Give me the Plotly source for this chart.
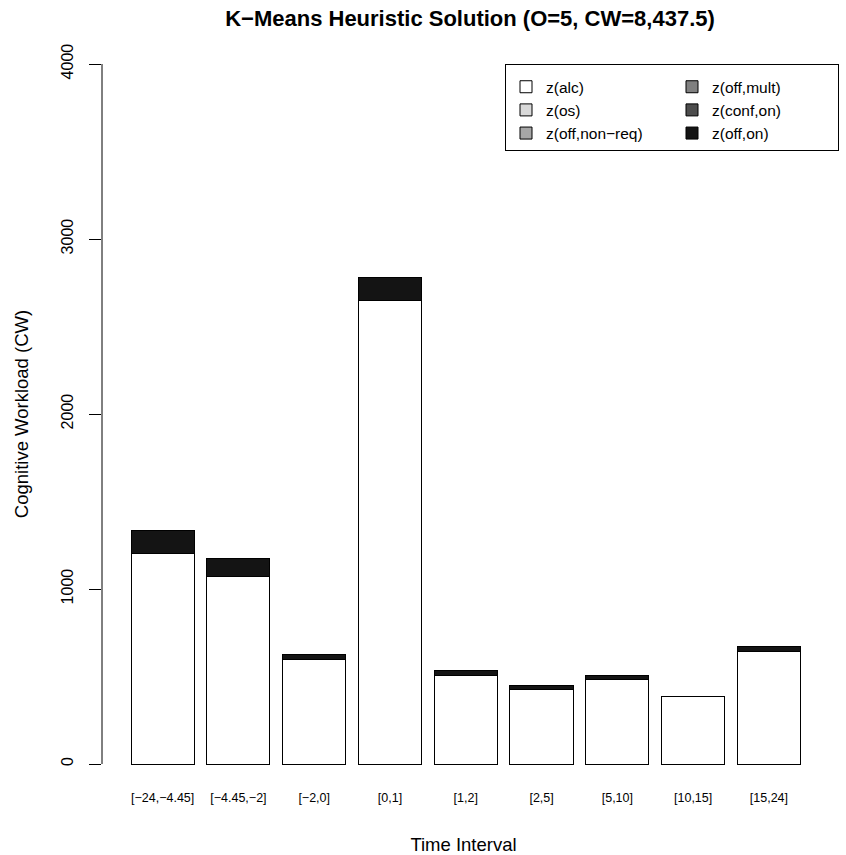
import plotly.graph_objects as go

categories = ["[\u221224,\u22124.45]", "[\u22124.45,\u22122]", "[\u22122,0]", "[0,1]", "[1,2]",
              "[2,5]", "[5,10]", "[10,15]", "[15,24]"]
z_alc = [1204, 1074, 598, 2647, 505, 425, 482, 383, 641]
z_os = [0, 0, 0, 0, 0, 0, 0, 0, 0]
z_off_nonreq = [0, 0, 0, 0, 0, 0, 0, 0, 0]
z_off_mult = [0, 0, 0, 0, 0, 0, 0, 0, 0]
z_conf_on = [0, 0, 0, 0, 0, 0, 0, 0, 0]
z_off_on = [129, 101, 25, 134, 30, 25, 23, 4, 28]
y_ticks = [0, 1000, 2000, 3000, 4000]

series = [
    ("z(alc)", z_alc, "#ffffff", 1),
    ("z(os)", z_os, "#d9d9d9", 3),
    ("z(off,non\u2212req)", z_off_nonreq, "#a6a6a6", 5),
    ("z(off,mult)", z_off_mult, "#808080", 2),
    ("z(conf,on)", z_conf_on, "#4d4d4d", 4),
    ("z(off,on)", z_off_on, "#141414", 6),
]

FONT = "Liberation Sans, Arial, Helvetica, sans-serif"

fig = go.Figure()
x_idx = list(range(len(categories)))
for name, vals, color, rank in series:
    fig.add_trace(go.Bar(
        x=x_idx, y=vals, name=name, legendrank=rank,
        marker=dict(color=color, line=dict(color="#000000", width=1)),
    ))

fig.update_layout(
    width=846, height=855,
    margin=dict(l=102, r=21, t=36, b=63, autoexpand=False),
    paper_bgcolor="white", plot_bgcolor="white",
    barmode="stack", bargap=1 - 1 / 1.2,
    font=dict(family=FONT, color="#000000"),
    title=dict(text="<b>K\u2212Means Heuristic Solution (O=5, CW=8,437.5)</b>",
               x=470 / 846, xref="container", xanchor="center",
               y=1 - 18 / 855, yref="container", yanchor="middle",
               font=dict(size=22)),
    showlegend=True,
    legend=dict(orientation="h", x=(839 - 102) / 723, xanchor="right", y=0.963, yanchor="top",
                bordercolor="#000000", borderwidth=1, bgcolor="white",
                entrywidth=121, font=dict(size=15.5), traceorder="normal",
                title=dict(text=" ", side="top", font=dict(size=4))),
    xaxis=dict(range=[-0.80, 8.74], tickmode="array", tickvals=x_idx, ticktext=categories,
               showline=False, showgrid=False, zeroline=False, ticks="",
               tickfont=dict(size=12.5), automargin=False, ticklabelstandoff=-4,
               title=dict(text="Time Interval", font=dict(size=18.5), standoff=34)),
    yaxis=dict(range=[-160, 4160], tickvals=y_ticks,
               showline=False, showgrid=False, zeroline=False,
               ticks="outside", ticklen=12, tickcolor="#000000", tickangle=-90,
               ticklabelstandoff=10,
               tickfont=dict(size=16), automargin=False,
               title=dict(text="Cognitive Workload (CW)", font=dict(size=18.5), standoff=25)),
)

fig.add_shape(type="line", xref="paper", yref="y", x0=0, x1=0, y0=y_ticks[0], y1=y_ticks[-1],
              line=dict(color="#000000", width=1))

fig.write_html("out.html")
